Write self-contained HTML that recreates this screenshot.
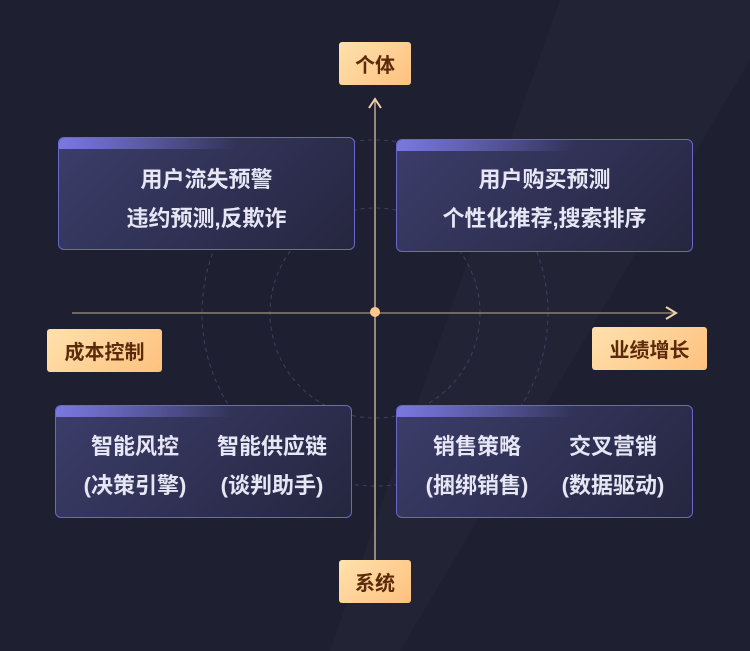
<!DOCTYPE html><html><head><meta charset="utf-8"><style>
body{margin:0}
#c{position:relative;width:750px;height:651px;overflow:hidden;background:#1e2031;font-family:"Liberation Sans","Noto Sans CJK SC",sans-serif}
.lab{position:absolute;background:linear-gradient(135deg,#ffe1ad,#fdc17f);border-radius:3px;color:#5a2a0a;font-size:20px;font-weight:bold;display:flex;align-items:center;justify-content:center}
.box{position:absolute;width:295px;height:111px;border:1px solid #6a67c8;border-radius:6px;background:linear-gradient(135deg,#3c3d6a,#2c2d4d 70%,#25263e);overflow:hidden;color:#e6e6f5;font-size:22px;font-weight:bold;line-height:30px}
.box:before{content:"";position:absolute;left:0;top:0;right:0;height:11px;background:linear-gradient(90deg,#7a78e0,rgba(122,120,224,0) 60%)}
.t{position:absolute;width:100%;text-align:center}
.c2{position:absolute;text-align:center;width:160px;margin-left:-80px;white-space:nowrap}
</style></head><body><div id="c">
<svg width="750" height="651" style="position:absolute;left:0;top:0">
<polygon points="560,0 750,0 750,60 400,651 330,651" fill="#222436"/>
<circle cx="375" cy="313" r="105" fill="none" stroke="#3e4060" stroke-dasharray="4 4"/>
<circle cx="375" cy="313" r="173" fill="none" stroke="#3e4060" stroke-dasharray="4 4"/>
<line x1="72" y1="313" x2="674" y2="313" stroke="#8a8070" stroke-width="1.5"/>
<polyline points="666,307 676,313 666,319" fill="none" stroke="#f0d0b0" stroke-width="2"/>
<line x1="375" y1="100" x2="375" y2="562" stroke="#c0a890" stroke-width="1.5"/>
<polyline points="369,108 375,99 381,108" fill="none" stroke="#f0d0b0" stroke-width="2"/>
<circle cx="375" cy="312" r="5" fill="#fdc78a"/>
</svg>
<div class="box" style="left:58px;top:137px"><div class="t" style="top:27px">用户流失预警</div><div class="t" style="top:66px">违约预测,反欺诈</div></div>
<div class="box" style="left:396px;top:139px"><div class="t" style="top:25px">用户购买预测</div><div class="t" style="top:64px">个性化推荐,搜索排序</div></div>
<div class="box" style="left:55px;top:405px"><div class="c2" style="left:79px;top:26px">智能风控</div><div class="c2" style="left:79px;top:65px">(决策引擎)</div><div class="c2" style="left:216px;top:26px">智能供应链</div><div class="c2" style="left:216px;top:65px">(谈判助手)</div></div>
<div class="box" style="left:396px;top:405px"><div class="c2" style="left:80px;top:26px">销售策略</div><div class="c2" style="left:80px;top:65px">(捆绑销售)</div><div class="c2" style="left:216px;top:26px">交叉营销</div><div class="c2" style="left:216px;top:65px">(数据驱动)</div></div>
<div class="lab" style="left:339px;top:42px;width:72px;height:43px">个体</div>
<div class="lab" style="left:47px;top:329px;width:115px;height:43px">成本控制</div>
<div class="lab" style="left:592px;top:327px;width:115px;height:43px">业绩增长</div>
<div class="lab" style="left:339px;top:560px;width:72px;height:43px">系统</div>
</div></body></html>
